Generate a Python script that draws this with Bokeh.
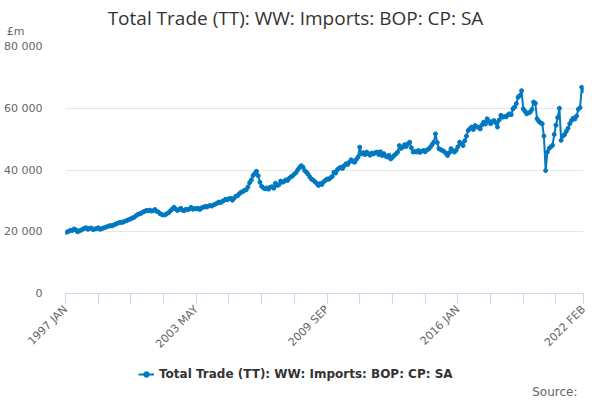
import math

from bokeh.embed import file_html
from bokeh.layouts import column
from bokeh.models import (ColumnDataSource, FixedTicker, Label, Legend,
                          LegendItem, Range1d, Title)
from bokeh.plotting import figure
from bokeh.resources import INLINE

# Monthly values, £m (1997 JAN .. 2022 FEB)
y1997 = [19800, 19900, 20200, 20500, 20400, 20900, 20600, 20000, 20300, 20500, 20800, 21100]
y1998 = [21300, 20800, 21100, 21200, 20700, 20900, 21000, 21300, 20800, 21000, 21200, 21400]
y1999 = [21600, 21800, 22000, 21900, 22200, 22400, 22700, 22900, 23100, 23000, 23300, 23500]
y2000 = [23700, 24000, 24200, 24500, 24700, 25200, 25600, 25800, 26000, 26400, 26600, 26900]
y2001 = [26800, 27000, 26700, 26800, 27200, 26600, 26400, 25800, 25600, 25400, 25500, 25900]
y2002 = [26200, 26800, 27300, 27900, 27400, 26900, 27200, 27600, 27000, 26800, 27300, 27100]
y2003 = [27400, 27900, 27300, 27500, 27400, 27600, 27200, 27700, 27900, 28200, 28000, 28300]
y2004 = [28500, 28300, 28700, 28900, 29200, 29600, 29400, 29800, 30100, 30500, 30400, 30700]
y2005 = [30800, 30200, 30900, 31500, 31700, 32300, 32800, 33000, 33400, 33600, 34500, 35900]
y2006 = [36800, 38200, 38900, 39600, 38100, 36000, 34700, 34200, 33900, 34200, 33800, 34400]
y2007 = [34600, 34100, 35700, 35000, 35200, 36400, 36000, 36300, 36800, 36600, 37300, 37800]
y2008 = [38100, 38700, 39200, 40100, 40800, 41400, 40900, 39800, 39300, 38600, 37700, 37000]
y2009 = [36700, 36200, 35600, 35000, 35600, 35300, 36200, 36600, 37100, 37000, 37500, 37900]
y2010 = [39300, 39000, 40100, 40600, 40900, 40500, 41400, 42000, 41800, 42600, 43300, 42800]
y2011 = [42500, 43400, 44200, 47400, 45200, 45600, 45000, 45800, 45300, 44800, 45500, 45200]
y2012 = [45600, 45800, 45000, 45900, 44700, 45300, 44500, 44200, 44800, 43600, 44100, 44700]
y2013 = [45200, 45800, 47900, 47000, 47400, 48200, 47600, 48500, 49000, 47200, 45800, 46000]
y2014 = [45800, 46300, 45700, 46100, 46300, 45900, 46500, 46800, 47400, 48200, 49000, 51700]
y2015 = [48900, 46900, 46600, 46300, 46000, 45400, 44700, 45600, 46900, 46200, 45800, 46400]
y2016 = [47500, 49000, 48500, 47900, 49500, 51000, 52800, 53400, 53900, 53100, 54400, 54000]
y2017 = [53800, 53300, 54600, 55500, 54900, 56600, 55800, 55000, 55700, 56000, 55300, 53900]
y2018 = [56200, 57700, 57100, 57300, 57200, 57800, 58200, 57900, 59800, 60400, 61500, 63600]
y2019 = [64100, 65700, 59800, 59000, 58200, 58500, 58700, 59600, 62000, 61600, 56600, 55800]
y2020 = [55300, 55000, 51000, 39800, 45800, 47000, 47500, 48000, 51500, 54500, 57000, 60000]
y2021 = [49600, 51000, 51500, 52500, 53500, 55000, 56000, 56800, 56500, 57500, 59700, 60200]
y2022 = [66800, 65700]

imports = (y1997 + y1998 + y1999 + y2000 + y2001 + y2002 + y2003 + y2004 + y2005
           + y2006 + y2007 + y2008 + y2009 + y2010 + y2011 + y2012 + y2013 + y2014
           + y2015 + y2016 + y2017 + y2018 + y2019 + y2020 + y2021 + y2022)

# x axis: a tick every 19 months plus the last month, labels on some of them
x_ticks = [0, 19, 38, 57, 76, 95, 114, 133, 152, 171, 190, 209, 228, 247, 266, 285, 301]
x_tick_labels = {0: "1997 JAN", 76: "2003 MAY", 152: "2009 SEP", 228: "2016 JAN", 301: "2022 FEB"}
y_ticks = [0, 20000, 40000, 60000, 80000]
y_tick_labels = {0: "0", 20000: "20 000", 40000: "40 000", 60000: "60 000", 80000: "80 000"}

series_name = "Total Trade (TT): WW: Imports: BOP: CP: SA"
blue = "#0079c1"

source = ColumnDataSource(data=dict(x=list(range(len(imports))), y=imports))

# --- header strip: title and the "£m" unit (as the strip's only y tick label)
head = figure(width=592, height=38, output_backend="svg", toolbar_location=None,
              tools="", x_axis_location=None, x_range=Range1d(0, 1),
              y_range=Range1d(0, 38), min_border_left=65, min_border_right=9,
              min_border_top=0, min_border_bottom=0)
head.outline_line_color = None
head.grid.visible = False
head.yaxis.ticker = FixedTicker(ticks=[6])
head.yaxis.major_label_overrides = {6: "£m"}
head.yaxis.axis_line_color = None
head.yaxis.major_tick_line_color = None
head.yaxis.minor_tick_line_color = None
head.yaxis.major_label_standoff = 35
head.yaxis.major_label_text_font = "DejaVu Sans"
head.yaxis.major_label_text_font_size = "11px"
head.yaxis.major_label_text_color = "#666666"
head.add_layout(Label(x=0, y=38, x_offset=230, y_offset=-17, text=series_name,
                      text_font="Open Sans", text_font_size="19px",
                      text_color="#333333", text_align="center",
                      text_baseline="middle"))

# --- main chart
p = figure(frame_width=518, frame_height=247, output_backend="svg",
           toolbar_location=None, tools="", title=None,
           x_range=Range1d(0, len(imports) - 1), y_range=Range1d(0, 80000),
           min_border_left=65, min_border_right=9, min_border_top=8,
           min_border_bottom=0)
p.outline_line_color = None
p.background_fill_color = "white"

p.line("x", "y", source=source, line_color=blue, line_width=2)
p.scatter("x", "y", source=source, size=4, color=blue)

p.xaxis.ticker = FixedTicker(ticks=x_ticks)
p.xaxis.major_label_overrides = {t: x_tick_labels.get(t, "") for t in x_ticks}
p.xaxis.major_label_orientation = math.pi / 4
p.xaxis.axis_line_color = "#ccd6eb"
p.xaxis.major_tick_line_color = "#ccd6eb"
p.xaxis.major_tick_out = 10
p.xaxis.major_tick_in = 0
p.xaxis.minor_tick_line_color = None
p.xaxis.major_label_standoff = 4

p.yaxis.ticker = FixedTicker(ticks=y_ticks)
p.yaxis.major_label_overrides = y_tick_labels
p.yaxis.axis_line_color = None
p.yaxis.major_tick_line_color = None
p.yaxis.minor_tick_line_color = None
p.yaxis.major_label_standoff = 17

for ax in (p.xaxis, p.yaxis):
    ax.major_label_text_font = "DejaVu Sans"
    ax.major_label_text_font_size = "11px"
    ax.major_label_text_color = "#666666"

p.xgrid.grid_line_color = None
p.ygrid.grid_line_color = "#e6e6e6"

# --- footer strip: legend and the source note
foot = figure(width=592, height=40, output_backend="svg", toolbar_location=None,
              tools="", x_axis_location=None, y_axis_location=None,
              x_range=Range1d(0, 1), y_range=Range1d(0, 1),
              min_border_left=65, min_border_right=9, min_border_top=0,
              min_border_bottom=0)
foot.grid.visible = False
foot.outline_line_color = None
# the series again, far outside this strip's range: only its legend key shows
key_line = foot.line("x", "y", source=source, line_color=blue, line_width=2)
key_dot = foot.scatter("x", "y", source=source, size=4, color=blue)

legend = Legend(items=[LegendItem(label=series_name, renderers=[key_line, key_dot])],
                location=(73, 1), orientation="horizontal",
                padding=0, margin=0, border_line_color=None, background_fill_alpha=0,
                glyph_width=16, glyph_height=14, label_standoff=5,
                label_text_font="DejaVu Sans", label_text_font_size="12px",
                label_text_font_style="bold", label_text_color="#333333")
foot.add_layout(legend, "center")
foot.add_layout(Title(text="Source:", align="right", offset=6, standoff=0,
                      text_font="DejaVu Sans", text_font_size="12px",
                      text_font_style="normal", text_color="#666666"), "below")

open("out.html", "w").write(file_html(column(head, p, foot), INLINE))
